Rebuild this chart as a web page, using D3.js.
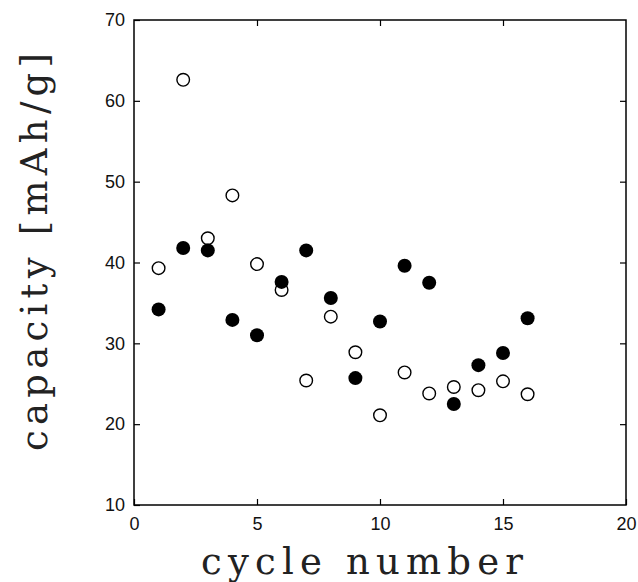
<!DOCTYPE html>
<html>
<head>
<meta charset="utf-8">
<script src="https://cdn.jsdelivr.net/npm/d3@7"></script>
<style>
  body { margin: 0; background: #fff; }
  svg { display: block; }
</style>
</head>
<body>
<svg></svg>
<script>
// cycle numbers
const cycles = [1, 2, 3, 4, 5, 6, 7, 8, 9, 10, 11, 12, 13, 14, 15, 16];
// open circles
const openCap = [39.3, 62.6, 43.0, 48.3, 39.8, 36.6, 25.4, 33.3, 28.9, 21.1, 26.4, 23.8, 24.6, 24.2, 25.3, 23.7];
// filled circles
const filledCap = [34.2, 41.8, 41.5, 32.9, 31.0, 37.6, 41.5, 35.6, 25.7, 32.7, 39.6, 37.5, 22.5, 27.3, 28.8, 33.1];

const xTicks = [0, 5, 10, 15, 20];
const yTicks = [10, 20, 30, 40, 50, 60, 70];

const svgWidth = 638, svgHeight = 582;
const margin = { top: 20, right: 12, bottom: 77, left: 134 };
const width = svgWidth - margin.left - margin.right;
const height = svgHeight - margin.top - margin.bottom;

const svg = d3.select('svg')
    .attr("width", svgWidth)
    .attr("height", svgHeight);

const g = svg.append("g")
    .attr("transform", "translate(" + margin.left + "," + margin.top + ")");

const x = d3.scaleLinear().domain([0, 20]).range([0, width]);
const y = d3.scaleLinear().domain([10, 70]).range([height, 0]);

const tickFont = "'Liberation Sans', Arial, sans-serif";

// frame
g.append("rect")
    .attr("width", width)
    .attr("height", height)
    .attr("fill", "none")
    .attr("stroke", "#000")
    .attr("stroke-width", 1.5);

// bottom axis
const bx = g.append("g")
    .attr("transform", "translate(0," + height + ")")
    .call(d3.axisBottom(x).tickValues(xTicks).tickSizeInner(-6).tickSizeOuter(0).tickPadding(12));
// top axis ticks
const tx = g.append("g")
    .call(d3.axisTop(x).tickValues(xTicks.slice(1, -1)).tickSizeInner(-6).tickSizeOuter(0).tickFormat(""));
// left axis
const ly = g.append("g")
    .call(d3.axisLeft(y).tickValues(yTicks).tickSizeInner(-6).tickSizeOuter(0).tickPadding(9));
// right axis ticks
const ry = g.append("g")
    .attr("transform", "translate(" + width + ",0)")
    .call(d3.axisRight(y).tickValues(yTicks.slice(1, -1)).tickSizeInner(-6).tickSizeOuter(0).tickFormat(""));

[bx, tx, ly, ry].forEach(a => {
    a.select(".domain").remove();
    a.selectAll("line").attr("stroke", "#000").attr("stroke-width", 1.2);
    a.selectAll("text")
        .attr("fill", "#111")
        .style("font-family", tickFont)
        .style("font-size", "18px");
});

// points
g.selectAll(".open")
    .data(cycles)
    .enter().append("circle")
    .attr("class", "open")
    .attr("cx", d => x(d))
    .attr("cy", (d, i) => y(openCap[i]))
    .attr("r", 6.3)
    .attr("fill", "#fff")
    .attr("stroke", "#000")
    .attr("stroke-width", 1.4);

g.selectAll(".filled")
    .data(cycles)
    .enter().append("circle")
    .attr("class", "filled")
    .attr("cx", d => x(d))
    .attr("cy", (d, i) => y(filledCap[i]))
    .attr("r", 7)
    .attr("fill", "#000");

// axis titles
const titleFont = "'DejaVu Serif', 'Liberation Serif', serif";

svg.append("text")
    .attr("x", 362)
    .attr("y", 574)
    .attr("text-anchor", "middle")
    .attr("textLength", 322)
    .attr("lengthAdjust", "spacing")
    .style("font-family", titleFont)
    .style("font-size", "37px")
    .style("fill", "#222")
    .text("cycle number");

svg.append("text")
    .attr("transform", "translate(47,252) rotate(-90)")
    .attr("text-anchor", "middle")
    .attr("textLength", 398)
    .attr("lengthAdjust", "spacing")
    .style("font-family", titleFont)
    .style("font-size", "37px")
    .style("fill", "#222")
    .text("capacity [mAh/g]");
</script>
</body>
</html>
